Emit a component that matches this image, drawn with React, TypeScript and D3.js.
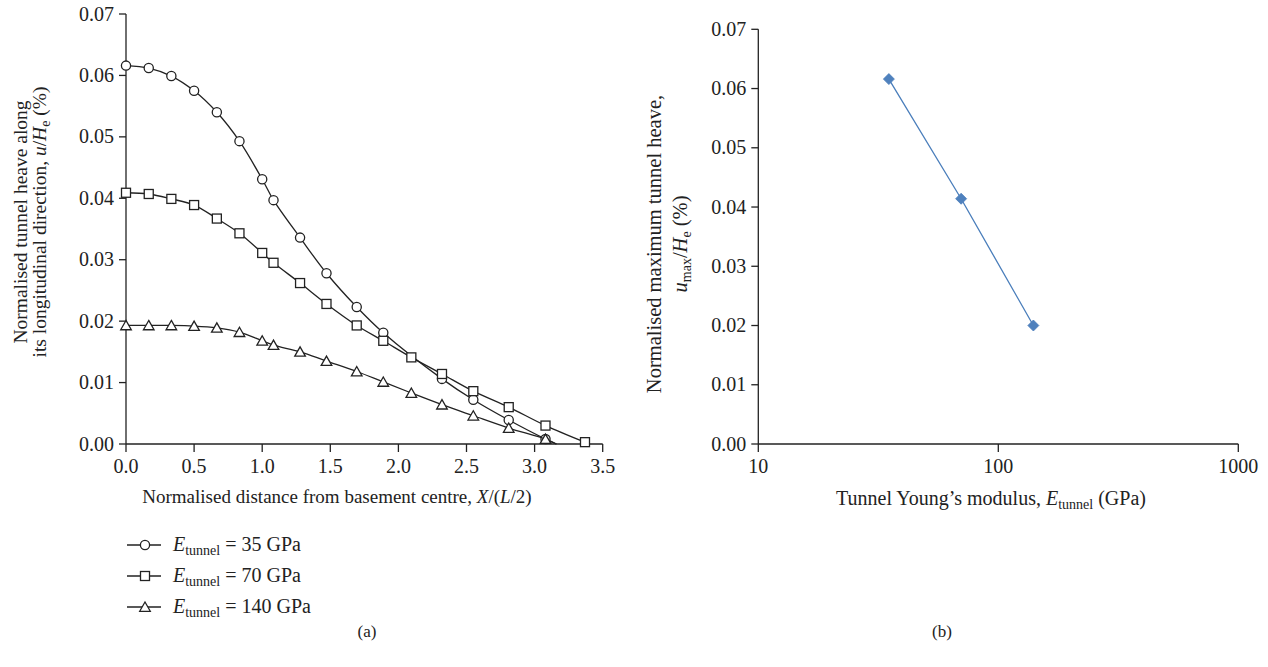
import React from "react";
import * as d3 from "d3";

// ---------- Data (a) ----------
const xCircle = [0, 0.167, 0.333, 0.5, 0.667, 0.833, 1.0, 1.083, 1.278, 1.472, 1.694, 1.889, 2.32, 2.55, 2.81, 3.08, 3.16];
const yCircle = [0.0616, 0.0612, 0.0599, 0.0575, 0.054, 0.0493, 0.0431, 0.0397, 0.0336, 0.0278, 0.0223, 0.0181, 0.0106, 0.0072, 0.0039, 0.0008, 0];

const xSquare = [0, 0.167, 0.333, 0.5, 0.667, 0.833, 1.0, 1.083, 1.278, 1.472, 1.694, 1.889, 2.095, 2.32, 2.55, 2.81, 3.08, 3.37];
const ySquare = [0.0409, 0.0407, 0.0399, 0.0389, 0.0367, 0.0343, 0.0311, 0.0295, 0.0262, 0.0228, 0.0193, 0.0168, 0.0141, 0.0114, 0.0086, 0.006, 0.003, 0.0003];

const xTriangle = [0, 0.167, 0.333, 0.5, 0.667, 0.833, 1.0, 1.083, 1.278, 1.472, 1.694, 1.889, 2.095, 2.32, 2.55, 2.81, 3.08, 3.16];
const yTriangle = [0.0193, 0.0193, 0.0193, 0.0192, 0.0189, 0.0182, 0.0168, 0.0161, 0.015, 0.0135, 0.0118, 0.0101, 0.0083, 0.0064, 0.0046, 0.0026, 0.0008, 0];

const legendLabels = ["35 GPa", "70 GPa", "140 GPa"];
const xTicksA = [0, 0.5, 1.0, 1.5, 2.0, 2.5, 3.0, 3.5];
const yTicks = [0, 0.01, 0.02, 0.03, 0.04, 0.05, 0.06, 0.07];

// ---------- Data (b) ----------
const modulus = [35, 70, 140];
const maxHeave = [0.0616, 0.0414, 0.02];
const xTicksB = [10, 100, 1000];

const FONT = "'Liberation Serif', 'Times New Roman', serif";
const TICK_FS = 20;
const XLABEL_FS = 19;
const YLABEL_A_FS = 19.5;
const YLABEL_B_FS = 20.5;
const LEGEND_FS = 20;
const SUB_FS = 14;
const BLUE = "#4a7ebb";

type Shape = "circle" | "square" | "triangle";

function Marker({ shape, x, y }: { shape: Shape; x: number; y: number }) {
  const common = { fill: "white", stroke: "#222", strokeWidth: 1.3 };
  if (shape === "circle") return <circle cx={x} cy={y} r={4.6} {...common} />;
  if (shape === "square") return <rect x={x - 4.5} y={y - 4.5} width={9} height={9} {...common} />;
  return <path d={`M${x},${y - 5} L${x + 5.3},${y + 4.3} L${x - 5.3},${y + 4.3} Z`} {...common} />;
}

export default function App() {
  const xa = d3.scaleLinear().domain([0, 3.5]).range([126, 602.7]);
  const ya = d3.scaleLinear().domain([0, 0.07]).range([444, 14]);
  const xb = d3.scaleLog().domain([10, 1000]).range([758.3, 1238.3]);
  const yb = d3.scaleLinear().domain([0, 0.07]).range([444, 29.3]);

  const series: { xs: number[]; ys: number[]; shape: Shape }[] = [
    { xs: xCircle, ys: yCircle, shape: "circle" },
    { xs: xSquare, ys: ySquare, shape: "square" },
    { xs: xTriangle, ys: yTriangle, shape: "triangle" },
  ];

  const lineA = d3
    .line<[number, number]>()
    .x((d) => xa(d[0]))
    .y((d) => ya(d[1]))
    .curve(d3.curveCatmullRom.alpha(0.5));

  const lineB = d3
    .line<[number, number]>()
    .x((d) => xb(d[0]))
    .y((d) => yb(d[1]));

  const fmt2 = d3.format(".2f");
  const fmt1 = d3.format(".1f");

  const legendY = [545, 576, 607];

  return (
    <div style={{ position: "absolute", left: 0, top: 0 }}>
      <svg width={1268} height={667} style={{ display: "block", fontFamily: FONT }}>
        <rect width={1268} height={667} fill="white" />

        {/* ===== Panel (a) ===== */}
        <line x1={xa(0)} x2={xa(0)} y1={ya(0)} y2={ya(0.07)} stroke="#222" strokeWidth={1.3} />
        {yTicks.map((t) => (
          <g key={"ya" + t}>
            <line x1={xa(0) - 7} x2={xa(0)} y1={ya(t)} y2={ya(t)} stroke="#222" strokeWidth={1.3} />
            <text x={xa(0) - 12} y={ya(t) + 6.5} fontSize={TICK_FS} textAnchor="end" fill="#222">
              {fmt2(t)}
            </text>
          </g>
        ))}
        <line x1={xa(0)} x2={xa(3.5)} y1={ya(0)} y2={ya(0)} stroke="#222" strokeWidth={1.3} />
        {xTicksA.map((t) => (
          <g key={"xa" + t}>
            <line x1={xa(t)} x2={xa(t)} y1={ya(0)} y2={ya(0) + 8} stroke="#222" strokeWidth={1.3} />
            <text x={xa(t)} y={473} fontSize={TICK_FS} textAnchor="middle" fill="#222">
              {fmt1(t)}
            </text>
          </g>
        ))}

        {series.map((s, i) => {
          const pts = s.xs.map((x, j) => [x, s.ys[j]] as [number, number]);
          return (
            <g key={"s" + i}>
              <path d={lineA(pts) || ""} fill="none" stroke="#222" strokeWidth={1.3} />
              {pts
                .filter((p) => p[1] > 0)
                .map((p, j) => (
                  <Marker key={j} shape={s.shape} x={xa(p[0])} y={ya(p[1])} />
                ))}
            </g>
          );
        })}

        <text transform="translate(27,222) rotate(-90)" fontSize={YLABEL_A_FS} textAnchor="middle" fill="#222">
          Normalised tunnel heave along
        </text>
        <text transform="translate(46,222) rotate(-90)" fontSize={YLABEL_A_FS} textAnchor="middle" fill="#222">
          <tspan>its longitudinal direction, </tspan>
          <tspan fontStyle="italic">u</tspan>
          <tspan>/</tspan>
          <tspan fontStyle="italic">H</tspan>
          <tspan fontSize={SUB_FS} fontStyle="normal" dy={4}>e</tspan>
          <tspan dy={-4}> (%)</tspan>
        </text>

        <text x={337} y={503} fontSize={XLABEL_FS} textAnchor="middle" fill="#222">
          Normalised distance from basement centre, <tspan fontStyle="italic">X</tspan>/(<tspan fontStyle="italic">L</tspan>/2)
        </text>

        {series.map((s, i) => (
          <g key={"lg" + i}>
            <line x1={127} x2={161} y1={legendY[i]} y2={legendY[i]} stroke="#222" strokeWidth={1.3} />
            <Marker shape={s.shape} x={145} y={legendY[i]} />
            <text x={173} y={legendY[i] + 6} fontSize={LEGEND_FS} fill="#222">
              <tspan fontStyle="italic">E</tspan>
              <tspan fontSize={SUB_FS} dy={4}>tunnel</tspan>
              <tspan dy={-4}> = {legendLabels[i]}</tspan>
            </text>
          </g>
        ))}

        <text x={367} y={637} fontSize={17} textAnchor="middle" fill="#222">(a)</text>

        {/* ===== Panel (b) ===== */}
        <line x1={xb(10)} x2={xb(10)} y1={yb(0)} y2={yb(0.07)} stroke="#222" strokeWidth={1.3} />
        {yTicks.map((t) => (
          <g key={"yb" + t}>
            <line x1={xb(10) - 7} x2={xb(10)} y1={yb(t)} y2={yb(t)} stroke="#222" strokeWidth={1.3} />
            <text x={xb(10) - 12} y={yb(t) + 6.5} fontSize={TICK_FS} textAnchor="end" fill="#222">
              {fmt2(t)}
            </text>
          </g>
        ))}
        <line x1={xb(10)} x2={xb(1000)} y1={yb(0)} y2={yb(0)} stroke="#222" strokeWidth={1.3} />
        {xTicksB.map((t) => (
          <g key={"xb" + t}>
            <line x1={xb(t)} x2={xb(t)} y1={yb(0)} y2={yb(0) + 8} stroke="#222" strokeWidth={1.3} />
            <text x={xb(t)} y={473} fontSize={TICK_FS} textAnchor="middle" fill="#222">
              {String(t)}
            </text>
          </g>
        ))}

        <path
          d={lineB(modulus.map((m, i) => [m, maxHeave[i]] as [number, number])) || ""}
          fill="none"
          stroke={BLUE}
          strokeWidth={1.3}
        />
        {modulus.map((m, i) => {
          const cx = xb(m);
          const cy = yb(maxHeave[i]);
          const r = 5.5;
          return (
            <path
              key={"d" + i}
              d={`M${cx},${cy - r} L${cx + r},${cy} L${cx},${cy + r} L${cx - r},${cy} Z`}
              fill="#4f81bd"
              stroke={BLUE}
              strokeWidth={0.8}
            />
          );
        })}

        <text transform="translate(661,244) rotate(-90)" fontSize={YLABEL_B_FS} textAnchor="middle" fill="#222">
          Normalised maximum tunnel heave,
        </text>
        <text transform="translate(687,244) rotate(-90)" fontSize={YLABEL_B_FS} textAnchor="middle" fill="#222">
          <tspan fontStyle="italic">u</tspan>
          <tspan fontSize={SUB_FS} dy={4}>max</tspan>
          <tspan dy={-4}>/</tspan>
          <tspan fontStyle="italic">H</tspan>
          <tspan fontSize={SUB_FS} dy={4}>e</tspan>
          <tspan dy={-4}> (%)</tspan>
        </text>

        <text x={991} y={505} fontSize={20} textAnchor="middle" fill="#222">
          Tunnel Young’s modulus, <tspan fontStyle="italic">E</tspan>
          <tspan fontSize={SUB_FS} dy={4}>tunnel</tspan>
          <tspan dy={-4}> (GPa)</tspan>
        </text>

        <text x={942} y={637} fontSize={17} textAnchor="middle" fill="#222">(b)</text>
      </svg>
    </div>
  );
}
